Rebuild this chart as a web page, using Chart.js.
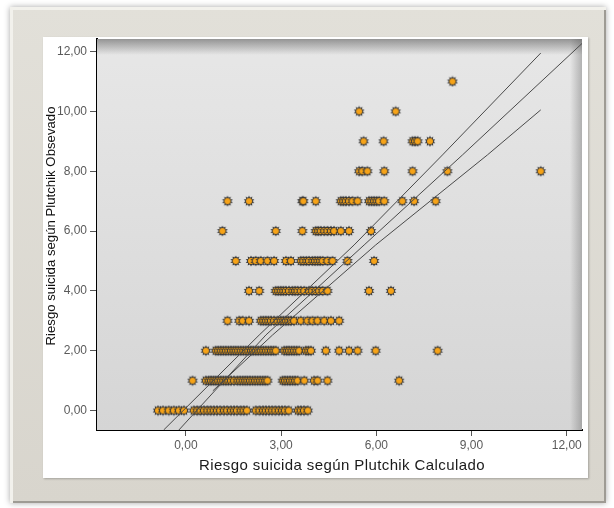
<!DOCTYPE html>
<html><head><meta charset="utf-8">
<script src="https://cdn.jsdelivr.net/npm/chart.js@4.4.1/dist/chart.umd.min.js"></script>
<style>
html,body{margin:0;padding:0;background:#fff;width:614px;height:508px;overflow:hidden}
#outer{position:absolute;left:10px;top:7px;width:596px;height:496px;background:linear-gradient(#e2e0d9,#d8d5cd);box-shadow:0 0 6px rgba(0,0,0,0.35), inset 3px 3px 0 #f2f1ec, inset -2px -2px 0 #9e9b94;}
#panel{position:absolute;left:43px;top:37px;width:545px;height:441px;background:#fff;box-shadow:1px 1px 2px rgba(0,0,0,0.25)}
canvas{position:absolute;left:0;top:0}
</style></head><body>
<div id="outer"></div><div id="panel"></div>
<canvas id="c" width="614" height="508"></canvas>
<script>
const obs0  = [-0.88,-0.72,-0.54,-0.38,-0.22,-0.06,0.25,0.36,0.46,0.57,0.68,0.78,0.88,0.98,1.08,1.20,1.30,1.42,1.52,1.61,1.73,1.82,1.92,2.20,2.32,2.43,2.52,2.62,2.72,2.82,2.93,3.03,3.12,3.24,3.53,3.62,3.72,3.84];
const obs1  = [0.21,0.63,0.72,0.79,0.87,0.94,1.02,1.10,1.18,1.26,1.34,1.42,1.52,1.63,1.71,1.79,1.87,1.94,2.02,2.10,2.18,2.26,2.34,2.42,2.50,2.57,3.05,3.12,3.20,3.28,3.36,3.44,3.52,3.73,4.04,4.15,4.46,6.72];
const obs2  = [0.63,0.94,1.02,1.10,1.18,1.26,1.34,1.42,1.50,1.57,1.65,1.73,1.81,1.89,1.97,2.05,2.12,2.20,2.28,2.36,2.44,2.52,2.60,2.68,2.76,2.83,3.10,3.18,3.25,3.33,3.41,3.49,3.57,3.78,3.86,3.94,4.41,4.83,5.14,5.41,5.98,7.93];
const obs3  = [1.31,1.68,1.79,1.99,2.36,2.44,2.52,2.60,2.68,2.78,2.89,2.99,3.07,3.15,3.23,3.31,3.41,3.62,3.83,3.99,4.15,4.36,4.57,4.83];
const obs4  = [1.99,2.31,2.83,2.91,2.99,3.07,3.15,3.25,3.36,3.44,3.52,3.62,3.73,3.88,3.98,4.09,4.20,4.31,4.46,5.77,6.46];
const obs5  = [1.57,2.05,2.20,2.36,2.57,2.78,3.15,3.31,3.62,3.70,3.80,3.88,3.99,4.07,4.15,4.23,4.31,4.46,4.62,5.09,5.93];
const obs6  = [1.15,2.83,3.67,4.09,4.17,4.25,4.36,4.46,4.57,4.67,4.88,5.14,5.83];
const obs7  = [1.31,1.99,3.67,3.70,4.09,4.88,4.96,5.04,5.14,5.25,5.41,5.77,5.85,5.93,6.01,6.09,6.25,6.82,7.19,7.87];
const obs8  = [5.46,5.56,5.72,6.25,7.14,8.24,11.18];
const obs9  = [5.60,6.23,7.14,7.22,7.30,7.69];
const obs10 = [5.46,6.61];
const obs11 = [8.40];
const obsRows = [obs0,obs1,obs2,obs3,obs4,obs5,obs6,obs7,obs8,obs9,obs10,obs11];

// Lines (x, y)
const lineAX = [-0.70, 2.31, 5.30, 8.085, 11.18];
const lineAY = [-0.65, 2.525, 5.535, 8.545, 11.95];
const lineBX = [-0.22, 2.52, 5.616, 8.715, 12.49];
const lineBY = [-0.65, 2.525, 5.535, 8.545, 12.28];
const lineCX = [0.85, 2.73, 5.98, 9.50, 11.18];
const lineCY = [0.66, 2.525, 5.535, 8.545, 10.05];

const xTicks = [0,3,6,9,12];
const yTicks = [0,2,4,6,8,10,12];
const xTitle = 'Riesgo suicida según Plutchik Calculado';
const yTitle = 'Riesgo suicida según Plutchik Obsevado';

const points = [];
obsRows.forEach((row, y) => row.forEach(x => points.push({x, y})));
const toXY = (xs, ys) => xs.map((x, i) => ({x, y: ys[i]}));

function makeStar(){
  const c = document.createElement('canvas'); c.width = 12; c.height = 12;
  const g = c.getContext('2d');
  const cx = 6, cy = 6, n = 10, R = 5.6, r = 3.6;
  g.beginPath();
  for (let i = 0; i < 2*n; i++) {
    const a = Math.PI*i/n - Math.PI/2, rr = i%2 ? r : R;
    g.lineTo(cx + rr*Math.cos(a), cy + rr*Math.sin(a));
  }
  g.closePath(); g.fillStyle = '#383838'; g.fill();
  g.beginPath(); g.arc(cx, cy, 3.0, 0, 2*Math.PI); g.fillStyle = '#f6a318'; g.fill();
  return c;
}
const star = makeStar();

const bgPlugin = {
  id: 'plotbg',
  beforeDatasetsDraw(chart) {
    const {ctx, chartArea: {left, top, right, bottom}} = chart;
    ctx.save();
    const g = ctx.createLinearGradient(0, top, 0, bottom);
    g.addColorStop(0, '#e7e7e7'); g.addColorStop(1, '#d5d5d5');
    ctx.fillStyle = g; ctx.fillRect(left, top, right-left, bottom-top);
    const t = ctx.createLinearGradient(0, top, 0, top+16);
    t.addColorStop(0, 'rgba(80,80,80,0.55)'); t.addColorStop(1, 'rgba(80,80,80,0)');
    ctx.fillStyle = t; ctx.fillRect(left, top, right-left, 16);
    const r = ctx.createLinearGradient(right-12, 0, right, 0);
    r.addColorStop(0, 'rgba(80,80,80,0)'); r.addColorStop(1, 'rgba(80,80,80,0.35)');
    ctx.fillStyle = r; ctx.fillRect(right-12, top, 12, bottom-top);
    ctx.restore();
  },
  afterDraw(chart) {
    const ctx = chart.ctx;
    ctx.save();
    ctx.fillStyle = '#1a1a1a';
    ctx.textAlign = 'center'; ctx.textBaseline = 'middle';
    ctx.font = '15px "Liberation Sans", Arial, sans-serif';
    if ('letterSpacing' in ctx) ctx.letterSpacing = '0.4px';
    ctx.fillText(xTitle, 342, 466);
    if ('letterSpacing' in ctx) ctx.letterSpacing = '0px';
    ctx.font = '13.2px "Liberation Sans", Arial, sans-serif';
    ctx.fillStyle = '#111';
    ctx.translate(51, 226); ctx.rotate(-Math.PI/2);
    ctx.fillText(yTitle, 0, 0);
    ctx.restore();
  }
};

const fmt = v => Number(v).toFixed(2).replace('.', ',');
const lineDs = (data) => ({type:'line', data, borderColor:'#4a4a4a', borderWidth:1, pointRadius:0, fill:false, tension:0, parsing:false});

new Chart(document.getElementById('c'), {
  type: 'scatter',
  data: { datasets: [
    lineDs(toXY(lineAX, lineAY)),
    lineDs(toXY(lineBX, lineBY)),
    lineDs(toXY(lineCX, lineCY)),
    { data: points, pointStyle: star, pointRadius: 5, pointHoverRadius: 5 }
  ]},
  options: {
    responsive: false, animation: false, devicePixelRatio: 1,
    layout: { padding: { left: 41, top: 39, right: 32, bottom: 30 } },
    plugins: { legend: { display: false }, tooltip: { enabled: false } },
    scales: {
      x: {
        type: 'linear', min: -2.8, max: 12.48,
        afterBuildTicks: s => { s.ticks = xTicks.map(v => ({value: v})); },
        afterFit: s => { s.height = 48; },
        ticks: { callback: fmt, color: '#5a5a5a', font: {family: 'Liberation Sans', size: 12}, padding: 2, maxRotation: 0 },
        grid: { drawOnChartArea: false, drawTicks: true, tickLength: 6, color: '#555' },
        border: { display: true, color: '#000', width: 2 },
        title: { display: false }
      },
      y: {
        type: 'linear', min: -0.65, max: 12.42,
        afterBuildTicks: s => { s.ticks = yTicks.map(v => ({value: v})); },
        afterFit: s => { s.width = 56; },
        ticks: { callback: fmt, color: '#5a5a5a', font: {family: 'Liberation Sans', size: 12}, padding: 3 },
        grid: { drawOnChartArea: false, drawTicks: true, tickLength: 7, color: '#555' },
        border: { display: true, color: '#000', width: 2 },
        title: { display: false }
      }
    }
  },
  plugins: [bgPlugin]
});
</script></body></html>
